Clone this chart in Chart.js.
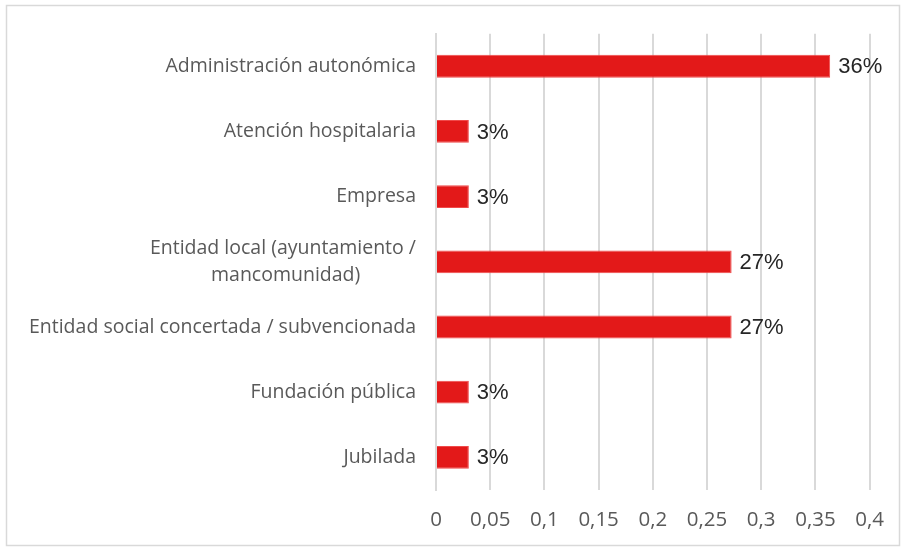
<!DOCTYPE html>
<html>
<head>
<meta charset="utf-8">
<script src="https://cdn.jsdelivr.net/npm/chart.js@4"></script>
<style>
  html, body { margin: 0; padding: 0; background: #ffffff; }
  #wrap { position: relative; width: 902px; height: 548px; }
</style>
</head>
<body>
<div id="wrap"><canvas id="c" width="902" height="548"></canvas></div>
<script>
const categories = [
  "Administración autonómica",
  "Atención hospitalaria",
  "Empresa",
  ["Entidad local (ayuntamiento /", "mancomunidad)\u00A0\u00A0\u00A0\u00A0\u00A0\u00A0\u00A0\u00A0\u00A0\u00A0\u00A0"],
  "Entidad social concertada / subvencionada",
  "Fundación pública",
  "Jubilada"
];
const shares = [0.3636, 0.0303, 0.0303, 0.2727, 0.2727, 0.0303, 0.0303];
const shareLabels = ["36%", "3%", "3%", "27%", "27%", "3%", "3%"];
const xTicks = [0, 0.05, 0.1, 0.15, 0.2, 0.25, 0.3, 0.35, 0.4];

const frame = {
  id: 'frame',
  beforeDraw(chart) {
    const ctx = chart.ctx;
    ctx.save();
    ctx.fillStyle = '#ffffff';
    ctx.fillRect(0, 0, chart.width, chart.height);
    ctx.strokeStyle = '#d9d9d9';
    ctx.lineWidth = 1.5;
    ctx.strokeRect(6.5, 5.5, 893, 540);
    ctx.restore();
  }
};

const valueLabels = {
  id: 'valueLabels',
  afterDatasetsDraw(chart) {
    const ctx = chart.ctx;
    const meta = chart.getDatasetMeta(0);
    ctx.save();
    ctx.font = '22px "Liberation Sans", Arial, sans-serif';
    ctx.fillStyle = '#262626';
    ctx.textAlign = 'left';
    ctx.textBaseline = 'middle';
    meta.data.forEach((bar, i) => {
      ctx.fillText(shareLabels[i], bar.x + 8, bar.y + 1);
    });
    ctx.restore();
  }
};

new Chart(document.getElementById('c'), {
  type: 'bar',
  data: {
    labels: categories,
    datasets: [{
      data: shares,
      backgroundColor: '#e31919',
      borderColor: '#f04a4a',
      borderWidth: 1,
      categoryPercentage: 1,
      barPercentage: 0.35
    }]
  },
  options: {
    indexAxis: 'y',
    responsive: false,
    animation: false,
    layout: { padding: { top: 33, right: 32, bottom: 0, left: 0 } },
    plugins: { legend: { display: false }, tooltip: { enabled: false } },
    scales: {
      x: {
        min: 0, max: 0.4,
        afterBuildTicks(scale) { scale.ticks = xTicks.map(v => ({ value: v })); },
        afterFit(scale) { scale.height = 58; },
        grid: { color: '#d9d9d9', lineWidth: 2, drawTicks: false },
        border: { display: false },
        ticks: {
          padding: 18,
          color: '#595959',
          font: { family: '"Open Sans", sans-serif', size: 20.5 },
          callback: v => String(v).replace('.', ',')
        }
      },
      y: {
        afterFit(scale) { scale.width = 436; },
        grid: { display: false, drawTicks: false },
        border: { display: true, color: '#d9d9d9', width: 2 },
        ticks: {
          padding: 20,
          color: '#595959',
          font: { family: '"Open Sans", sans-serif', size: 19.5, lineHeight: 1.4 }
        }
      }
    }
  },
  plugins: [frame, valueLabels]
});
</script>
</body>
</html>
